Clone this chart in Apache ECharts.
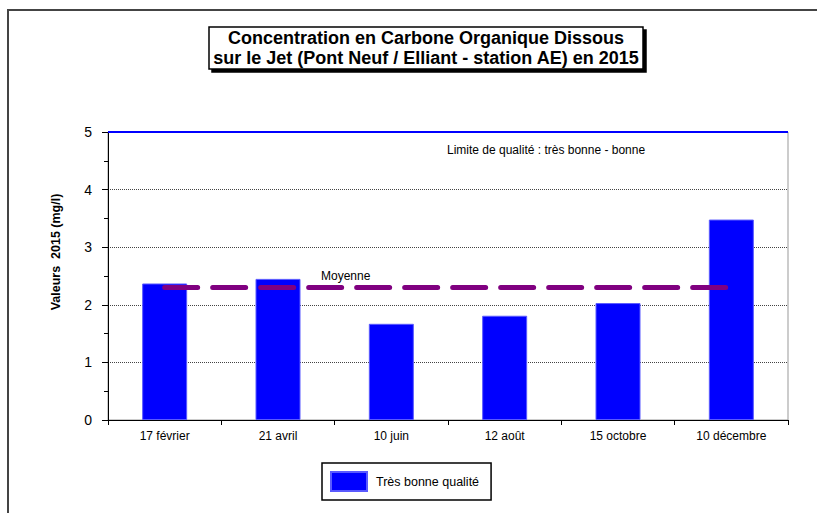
<!DOCTYPE html>
<html>
<head>
<meta charset="utf-8">
<script src="https://cdn.jsdelivr.net/npm/echarts@6/dist/echarts.min.js"></script>
<style>
  html, body { margin: 0; padding: 0; background: #fff; }
  #chart { width: 817px; height: 513px; }
</style>
</head>
<body>
<div id="chart"></div>
<script>
var categories = ['17 février', '21 avril', '10 juin', '12 août', '15 octobre', '10 décembre'];
var valeurs = [2.37, 2.45, 1.67, 1.81, 2.03, 3.48];
var moyenne = [2.3, 2.3, 2.3, 2.3, 2.3, 2.3];
var limite = 5;

var font = 'Arial, "Liberation Sans", sans-serif';
var container = document.getElementById('chart');

var opts = {
    backgroundColor: '#fff',
    animation: false,
    textStyle: { fontFamily: font, color: '#000' },
    title: {
        text: 'Concentration en Carbone Organique Dissous\nsur le Jet (Pont Neuf / Elliant - station AE) en 2015',
        left: 422,
        top: 27,
        padding: [1, 4],
        backgroundColor: '#fff',
        borderColor: '#000',
        borderWidth: 1.5,
        shadowColor: '#000',
        shadowBlur: 0,
        shadowOffsetX: 3,
        shadowOffsetY: 3,
        textAlign: 'center',
        textStyle: {
            fontFamily: font,
            fontSize: 18,
            fontWeight: 'bold',
            color: '#000',
            lineHeight: 20
        }
    },
    legend: {
        left: 322,
        top: 463,
        data: ['Très bonne qualité'],
        itemWidth: 36,
        itemHeight: 19,
        icon: 'rect',
        padding: [8, 12, 8, 8],
        borderColor: '#000',
        borderWidth: 1.5,
        textStyle: { fontFamily: font, fontSize: 12.5, color: '#000', padding: [0, 0, 0, 4] }
    },
    grid: {
        left: 108,
        right: 29,
        top: 132,
        bottom: 93,
        show: true,
        borderColor: '#999',
        borderWidth: 1
    },
    xAxis: [{
        type: 'category',
        data: categories,
        boundaryGap: true,
        axisLine: { lineStyle: { color: '#000', width: 1 } },
        axisTick: { show: true, alignWithLabel: false, length: 5, lineStyle: { color: '#000' } },
        axisLabel: { fontFamily: font, fontSize: 12, color: '#000', margin: 10 }
    }],
    yAxis: [{
        type: 'value',
        min: 0,
        max: 5,
        interval: 1,
        axisLine: { show: true, lineStyle: { color: '#000', width: 1 } },
        axisTick: { show: true, length: 6, lineStyle: { color: '#000' } },
        minorTick: { show: true, splitNumber: 2, length: 4, lineStyle: { color: '#000' } },
        axisLabel: { fontFamily: font, fontSize: 14, color: '#000', margin: 16 },
        splitLine: { show: true, lineStyle: { color: '#444', type: 'dotted', width: 1 } }
    }],
    graphic: [
        {
            type: 'rect',
            shape: { x: 8, y: 10, width: 900, height: 600 },
            style: { fill: 'none', stroke: '#444', lineWidth: 2 },
            silent: true,
            z: -10
        },
        {
            type: 'text',
            x: 56,
            y: 252,
            rotation: Math.PI / 2,
            style: {
                text: 'Valeurs  2015 (mg/l)',
                fontFamily: font,
                fontSize: 12.5,
                fontWeight: 'bold',
                fill: '#000',
                textAlign: 'center',
                textVerticalAlign: 'middle'
            }
        },
        {
            type: 'text',
            left: 447,
            top: 144,
            style: { text: 'Limite de qualité : très bonne - bonne', fontFamily: font, fontSize: 12, fill: '#000' }
        },
        {
            type: 'text',
            left: 321,
            top: 270,
            style: { text: 'Moyenne', fontFamily: font, fontSize: 12, fill: '#000' }
        }
    ],
    series: [
        {
            name: 'Très bonne qualité',
            type: 'bar',
            data: valeurs,
            barWidth: 45,
            itemStyle: { color: '#0000ff', borderColor: '#5a5aff', borderWidth: 1 },
            markLine: {
                silent: true,
                symbol: 'none',
                label: { show: false },
                lineStyle: { color: '#0000ff', width: 2, type: 'solid' },
                data: [{ yAxis: limite }]
            }
        },
        {
            name: 'Moyenne',
            type: 'line',
            data: moyenne,
            symbol: 'none',
            lineStyle: { color: '#800080', width: 5, type: [33, 15], cap: 'round' },
            z: 5
        }
    ]
};

echarts.init(container, null, { renderer: 'svg' }).setOption(opts);
</script>
</body>
</html>
